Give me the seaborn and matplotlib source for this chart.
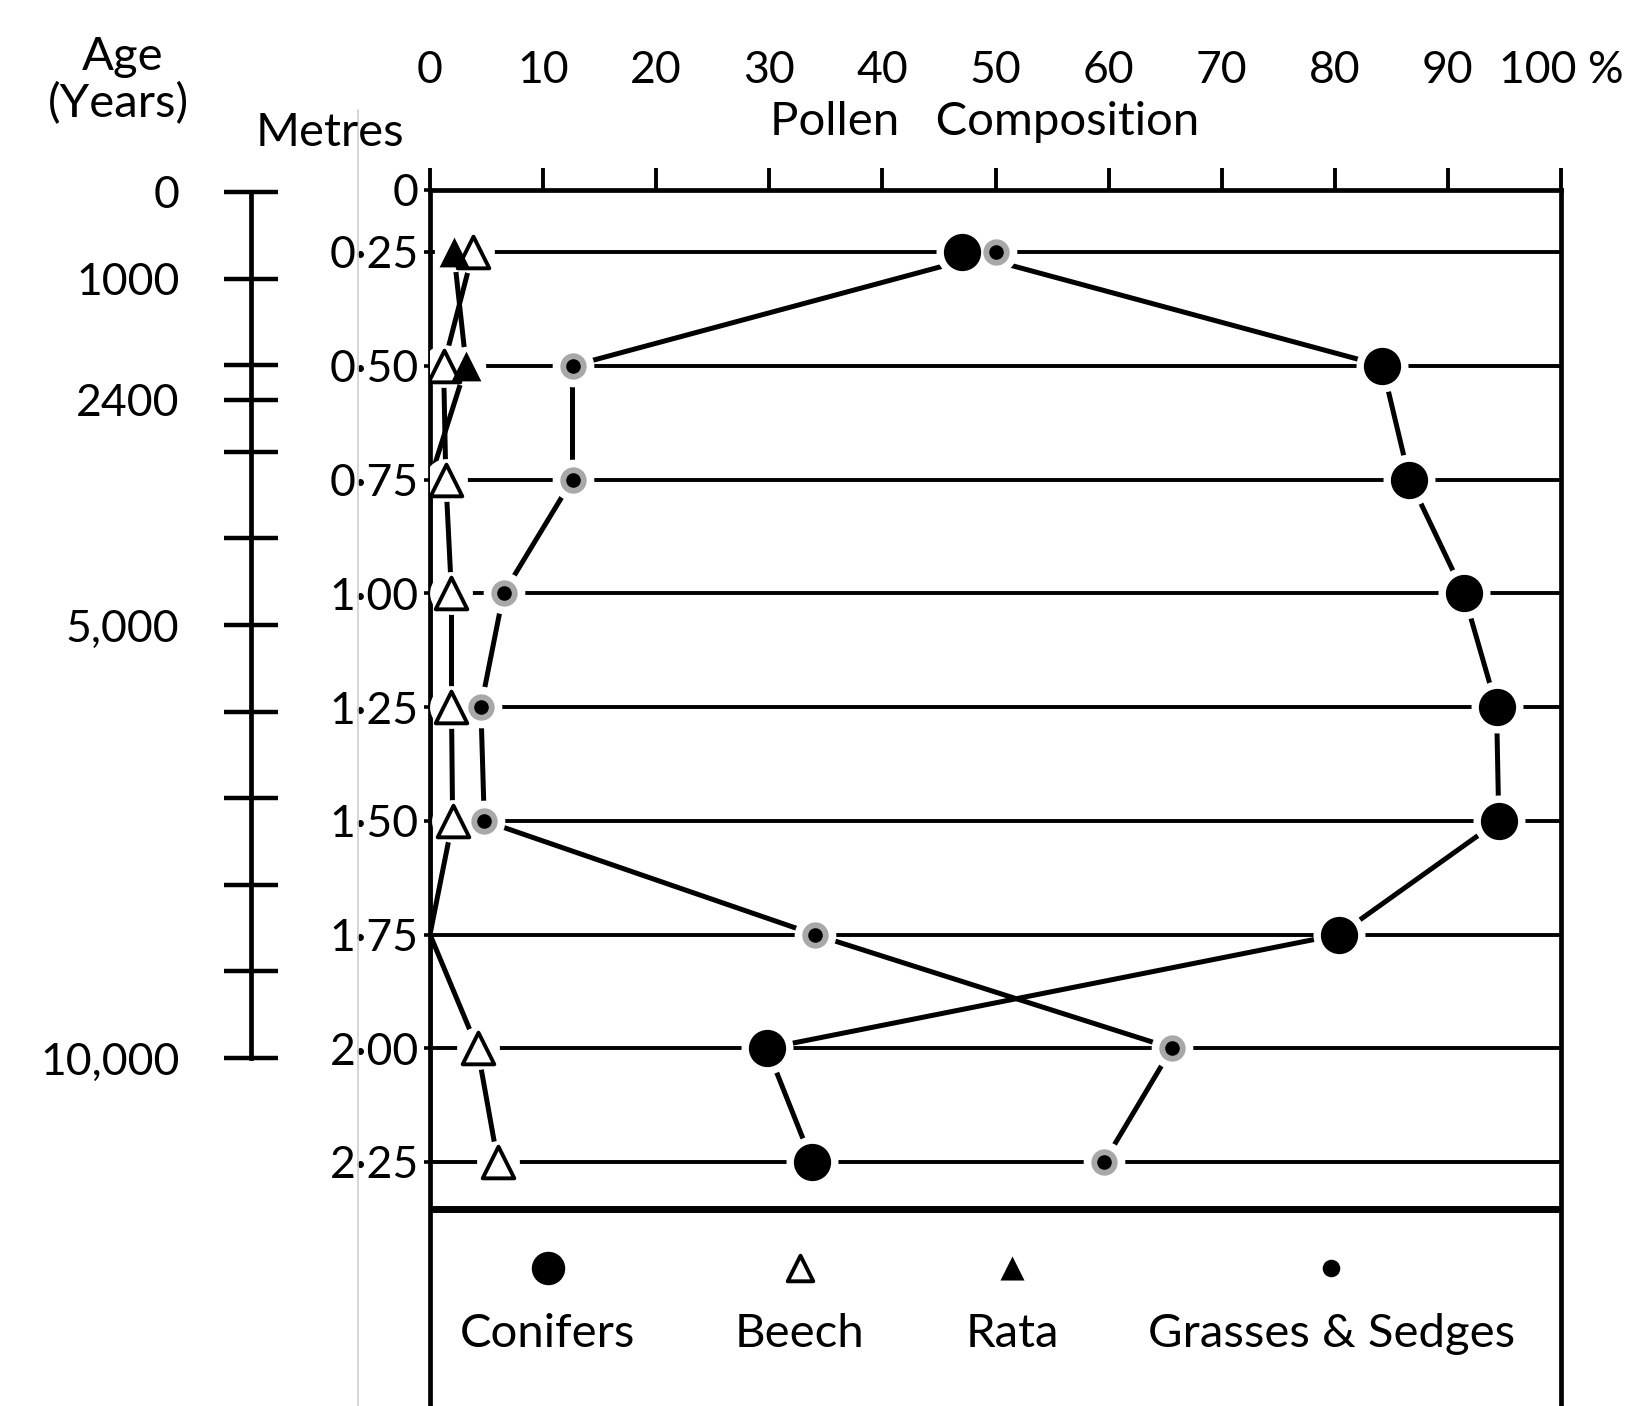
import matplotlib
matplotlib.use("Agg")
import matplotlib.pyplot as plt
import matplotlib.lines as mlines
import numpy as np
import seaborn as sns

# sample depths (metres) and their labels
depths = [0.25, 0.50, 0.75, 1.00, 1.25, 1.50, 1.75, 2.00, 2.25]
depth_labels = ["0·25", "0·50", "0·75", "1·00", "1·25", "1·50", "1·75", "2·00", "2·25"]

# pollen composition (%)
conifers = [47.0, 84.2, 86.6, 91.4, 94.3, 94.5, 80.4, 29.8, 33.8]
beech = [3.8, 1.2, 1.4, 1.9, 1.9, 2.0, 0.0, 4.2, 6.0]
rata = [2.1, 3.2, 0.0, 0.0, 0.0, 0.0, 0.0, 0.0, 0.0]
grasses = [50.0, 12.6, 12.6, 6.5, 4.5, 4.8, 34.0, 65.6, 59.6]

pct_ticks = list(range(0, 101, 10))
pct_labels = [str(v) for v in pct_ticks[:-1]] + ["100 %"]

# age scale (years)
age_ticks = [0, 1000, 2000, 2400, 3000, 4000, 5000, 6000, 7000, 8000, 9000, 10000]
age_named = {0: "0", 1000: "1000", 2400: "2400", 5000: "5,000", 10000: "10,000"}

legend_names = ["Conifers", "Beech", "Rata", "Grasses & Sedges"]

sns.set_style("white")
plt.rcParams["font.family"] = ["Lato", "DejaVu Sans"]
plt.rcParams.update({"text.color": "black", "axes.labelcolor": "black",
                     "xtick.color": "black", "ytick.color": "black",
                     "axes.edgecolor": "black"})
FS_NUM = 32
FS_TXT = 34

W, H = 1637, 1406
fig = plt.figure(figsize=(W / 100, H / 100), dpi=100)
fig.patch.set_facecolor("white")

# main pollen panel (pixel layout of the scan)
ax = fig.add_axes([430 / W, 0, 1131 / W, 1216 / H])
px_per_m = 455
top_depth = 0.25 - 62 / px_per_m
bottom_depth = 2.25 + 244 / px_per_m
ax.set_xlim(0, 100)
ax.set_ylim(bottom_depth, top_depth)
ax.patch.set_alpha(0)

for s in ["left", "right", "top"]:
    ax.spines[s].set_linewidth(3.4)
    ax.spines[s].set_color("black")
ax.spines["bottom"].set_visible(False)

ax.xaxis.tick_top()
ax.set_xticks(pct_ticks, labels=pct_labels)
ax.tick_params(axis="x", direction="out", length=16, width=2.8, pad=55,
               labelsize=FS_NUM, top=True, bottom=False, color="black")
ax.set_yticks([top_depth] + depths, labels=["0"] + depth_labels)
ax.tick_params(axis="y", direction="out", length=4, width=2.6, pad=4,
               labelsize=FS_NUM, left=True, color="black")
ax.xaxis.set_label_position("top")
ax.set_xlabel("Pollen   Composition", fontsize=FS_TXT)
ax.xaxis.set_label_coords(0.49, 1.0 + 55 / 1216)

# sample rows
for d in depths:
    ax.axhline(d, color="black", lw=2.8, zorder=1)
ax.axhline(2.25 + 47 / px_per_m, color="black", lw=5, zorder=1)

series = [
    (conifers, dict(marker="o", s=720, color="black", linewidth=0)),
    (beech, dict(marker="^", s=520, facecolor="white", edgecolor="black", linewidth=2.8)),
    (rata, dict(marker="^", s=460, color="black", linewidth=0)),
]

# connecting lines
for vals in [conifers, beech, rata, grasses]:
    sns.lineplot(x=vals, y=depths, orient="y", sort=False, color="black",
                 lw=3.6, ax=ax, zorder=2)

# white halos that break the lines around each marker
for vals, halo in [(conifers, 1400), (beech, 950), (rata, 800), (grasses, 900)]:
    shown = [v if v > 0 else np.nan for v in vals]
    sns.scatterplot(x=shown, y=depths, s=halo, color="white", linewidth=0,
                    marker="o", ax=ax, zorder=3)

for vals, kw in series:
    shown = [v if v > 0 else np.nan for v in vals]
    sns.scatterplot(x=shown, y=depths, ax=ax, zorder=4, **kw)
sns.scatterplot(x=grasses, y=depths, s=360, color="#a8a8a8", linewidth=0, ax=ax, zorder=4)
sns.scatterplot(x=grasses, y=depths, s=110, color="black", linewidth=0, ax=ax, zorder=5)

# legend strip under the thick line
leg_x = [10.4, 32.7, 51.5, 79.7]
mark_y = 2.25 + 106 / px_per_m
text_y = 2.25 + 172 / px_per_m
ax.scatter(leg_x[0], mark_y, s=580, color="black", lw=0, zorder=4)
ax.scatter(leg_x[1], mark_y, s=340, marker="^", facecolor="white", edgecolor="black", lw=2.8, zorder=4)
ax.scatter(leg_x[2], mark_y, s=300, marker="^", color="black", lw=0, zorder=4)
ax.scatter(leg_x[3], mark_y, s=160, color="black", lw=0, zorder=4)
for xpos, name in zip(leg_x, legend_names):
    ax.text(xpos, text_y, name, fontsize=FS_TXT, ha="center", va="center")

# age scale
ax_age = fig.add_axes([251 / W, (H - 1058) / H, 0.0005, 866 / H])
ax_age.patch.set_visible(False)
ax_age.set_ylim(10000, 0)
ax_age.set_xticks([])
for s in ["top", "right", "bottom"]:
    ax_age.spines[s].set_visible(False)
ax_age.spines["left"].set_linewidth(3.4)
ax_age.spines["left"].set_color("black")
ax_age.set_yticks(age_ticks, labels=[age_named.get(t, "") for t in age_ticks])
ax_age.tick_params(axis="y", direction="inout", length=39, width=3.2, pad=32,
                   labelsize=FS_NUM, color="black", labelcolor="black", left=True)

fig.text(123 / W, 1 - 57 / H, "Age", fontsize=FS_TXT, ha="center", va="center")
fig.text(118 / W, 1 - 104 / H, "(Years)", fontsize=FS_TXT, ha="center", va="center")
fig.text(330 / W, 1 - 133 / H, "Metres", fontsize=FS_TXT, ha="center", va="center")

# faint fold line in the scan
fig.add_artist(mlines.Line2D([358 / W, 358 / W], [0, 1 - 110 / H], color="#cfcfcf", lw=1.2))

fig.savefig("out.png", dpi=100, facecolor="white")
